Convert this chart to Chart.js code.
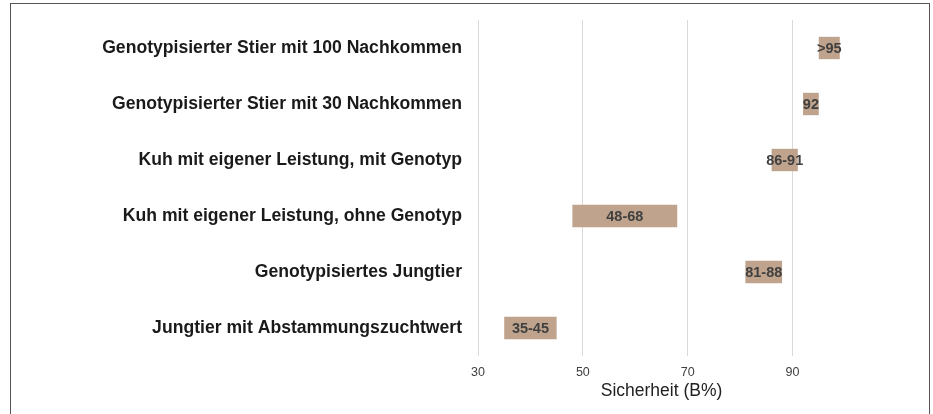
<!DOCTYPE html>
<html>
<head>
<meta charset="utf-8">
<script src="https://cdn.jsdelivr.net/npm/chart.js@4/dist/chart.umd.min.js"></script>
<style>
  html, body { margin: 0; padding: 0; background: #fff; }
  #wrap { position: relative; width: 933px; height: 414px; overflow: hidden; }
  #frame { position: absolute; left: 10px; top: 3px; width: 920px; height: 440px; border: 1px solid #555; box-sizing: border-box; }
  canvas { position: absolute; left: 0; top: 0; }
</style>
</head>
<body>
<div id="wrap">
  <div id="frame"></div>
  <canvas id="chart" width="933" height="414"></canvas>
</div>
<script>
// Kategorien (von oben nach unten)
const categories = [
    'Genotypisierter Stier mit 100 Nachkommen',
    'Genotypisierter Stier mit 30 Nachkommen',
    'Kuh mit eigener Leistung, mit Genotyp',
    'Kuh mit eigener Leistung, ohne Genotyp',
    'Genotypisiertes Jungtier',
    'Jungtier mit Abstammungszuchtwert'
];
// Sicherheit von / bis
const rangeStart = [95, 92, 86, 48, 81, 35];
const rangeEnd   = [99, 95, 91, 68, 88, 45];
const barLabels  = ['>95', '92', '86-91', '48-68', '81-88', '35-45'];
const xTicks = [30, 50, 70, 90];

const fontFamily = '"Liberation Sans", Arial, sans-serif';

// Beschriftung in der Mitte jedes Balkens
const barText = {
    id: 'barText',
    afterDatasetsDraw(chart) {
        const ctx = chart.ctx;
        const meta = chart.getDatasetMeta(0);
        ctx.save();
        ctx.font = 'bold 14.5px ' + fontFamily;
        ctx.fillStyle = '#404040';
        ctx.textAlign = 'center';
        ctx.textBaseline = 'middle';
        meta.data.forEach(function(bar, i) {
            const cx = (bar.x + bar.base) / 2;
            ctx.fillText(barLabels[i], cx, bar.y + 1);
        });
        ctx.restore();
    }
};

const ctx = document.getElementById('chart').getContext('2d');
new Chart(ctx, {
    type: 'bar',
    data: {
        labels: categories,
        datasets: [{
            data: categories.map((c, i) => [rangeStart[i], rangeEnd[i]]),
            backgroundColor: '#bfa38c',
            borderWidth: 0,
            categoryPercentage: 1,
            barPercentage: 0.4
        }]
    },
    options: {
        indexAxis: 'y',
        responsive: false,
        animation: false,
        layout: { padding: { left: 0, right: 88, top: 20, bottom: 0 } },
        plugins: {
            legend: { display: false },
            tooltip: { enabled: false }
        },
        scales: {
            x: {
                min: 30,
                max: 100,
                afterBuildTicks(scale) {
                    scale.ticks = xTicks.map(v => ({ value: v }));
                },
                afterFit(scale) {
                    scale.height = 58;
                    scale.paddingLeft = 0;
                    scale.paddingRight = 0;
                },
                grid: { color: '#d9d9d9', drawTicks: false },
                border: { display: false },
                ticks: {
                    padding: 9,
                    color: '#404040',
                    font: { family: fontFamily, size: 12.5 }
                },
                title: {
                    display: true,
                    text: 'Sicherheit (B%)',
                    color: '#222',
                    padding: { top: 2, bottom: 12 },
                    font: { family: fontFamily, size: 17.5 }
                }
            },
            y: {
                afterFit(scale) {
                    scale.width = 478;
                    scale.paddingTop = 0;
                    scale.paddingBottom = 0;
                },
                grid: { display: false, drawTicks: false },
                border: { display: false },
                ticks: {
                    padding: 16,
                    color: '#1a1a1a',
                    font: { family: fontFamily, size: 17.6, weight: 'bold' }
                }
            }
        }
    },
    plugins: [barText]
});
</script>
</body>
</html>
